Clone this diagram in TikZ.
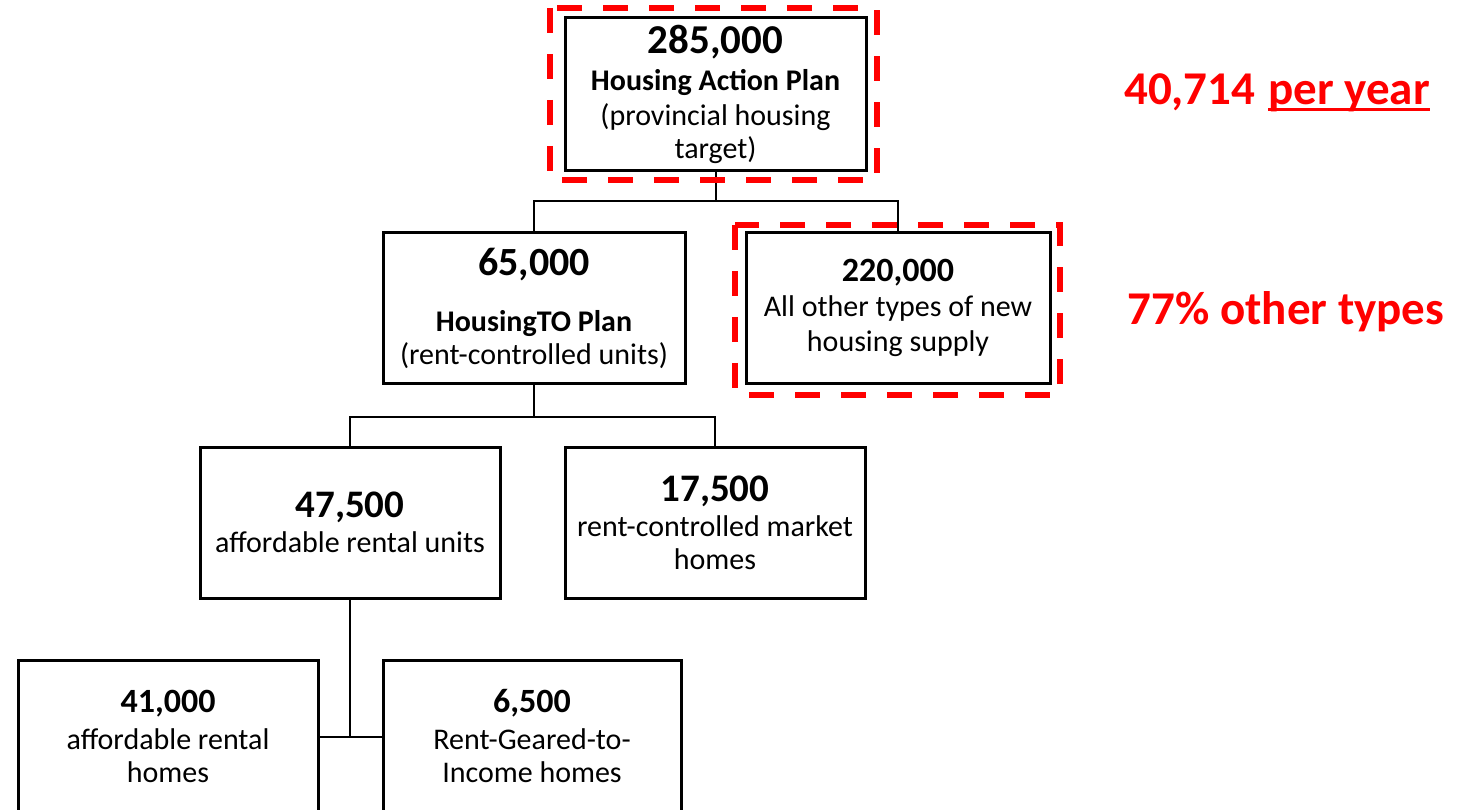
\documentclass[tikz,border=0pt]{standalone}
\usepackage{fontspec}
\setmainfont{Carlito}
\newcommand\hnum[2]{{\fontsize{#1}{#1}\selectfont\bfseries #2}}
\begin{document}
\begin{tikzpicture}[x=1pt,y=-1pt,
  box/.style={draw=black, line width=3pt, fill=white, inner sep=0pt, align=center,
              font=\fontsize{30}{34}\selectfont},
  conn/.style={draw=black, line width=2pt},
  hl/.style={draw=red, line width=6pt, dash pattern=on 25pt off 21pt},
  redtxt/.style={text=red, inner sep=0pt, font=\fontsize{47}{50}\selectfont\bfseries}]
\useasboundingbox (0,0) rectangle (1465,810);

% boxes
\node[box, minimum width=301pt, minimum height=153pt] (top) at (715.5,94.5)
  {\hnum{41}{285,000}\\[3pt] \textbf{Housing Action Plan}\\[1pt] (provincial housing\\[-1pt] target)};
\node[box, minimum width=302pt, minimum height=150pt] (hto) at (534,308)
  {\hnum{40}{65,000}\\[22pt] \textbf{HousingTO Plan}\\[-1pt] (rent-controlled units)};
\node[box, minimum width=304pt, minimum height=150pt] (oth) at (898,308)
  {\hnum{34}{220,000}\\[1pt] All other types of new\\[1pt] housing supply};
\node[box, minimum width=300pt, minimum height=151pt] (aru) at (350,522.5)
  {\hnum{39}{47,500}\\[1pt] affordable rental units};
\node[box, minimum width=300pt, minimum height=151pt] (rcm) at (715,522.5)
  {\hnum{39}{17,500}\\[1pt] rent-controlled market\\[-1pt] homes};
\node[box, minimum width=300pt, minimum height=153pt] (afh) at (168,736.5)
  {\hnum{34}{41,000}\\[3pt] affordable rental\\[-1pt] homes};
\node[box, minimum width=298pt, minimum height=153pt] (rgi) at (532,736.5)
  {\hnum{34}{6,500}\\[3pt] Rent-Geared-to-\\[-1pt] Income homes};

% connectors
\draw[conn] (top.south) -- ++(0,29) coordinate (j1);
\draw[conn] (hto.north) |- (j1) -| (oth.north);
\draw[conn] (hto.south) -- ++(0,32) coordinate (j2);
\draw[conn] (aru.north) |- (j2) -| (rcm.north);
\draw[conn] (aru.south) -- (aru.south |- afh.east);
\draw[conn] (afh.east) -- (rgi.west);

% red highlight frames
\draw[hl] (550,8) rectangle (877,180);
\draw[hl] (735,225) rectangle (1060,395);

% red annotations
\node[redtxt, anchor=base west] (rate) at (1124,105) {40,714};
\node[redtxt, anchor=base west] (py) at (1268,105) {per year};
\draw[red, line width=3pt] ([yshift=-5pt]py.base west) -- ([yshift=-5pt]py.base east);
\node[redtxt, anchor=base] (share) at (1286,325) {77\% other types};
\end{tikzpicture}
\end{document}
